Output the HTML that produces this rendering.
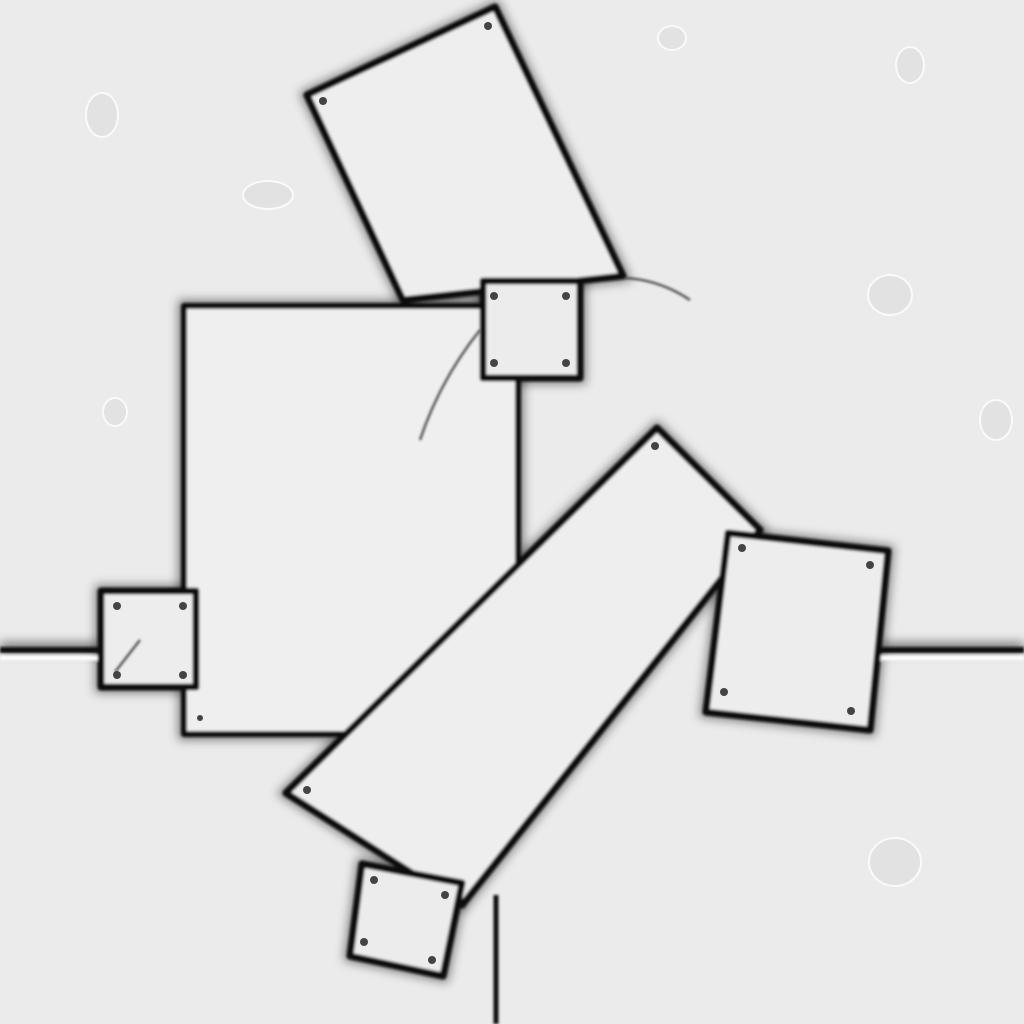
<!DOCTYPE html>
<html>
<head>
<meta charset="utf-8">
<style>
  html,body{margin:0;padding:0;background:#ebebeb;}
  svg{display:block;}
</style>
</head>
<body>
<svg width="1024" height="1024" viewBox="0 0 1024 1024">
  <defs>
    <filter id="soft" x="-5%" y="-5%" width="110%" height="110%">
      <feGaussianBlur stdDeviation="1.4"/>
    </filter>
    <filter id="shadow" x="-10%" y="-10%" width="120%" height="120%">
      <feGaussianBlur stdDeviation="5"/>
    </filter>
    <g id="shapes">
      <polygon points="307,95 495,7 623,276 403,300"/>
      <rect x="184" y="306" width="334" height="428"/>
      <polygon points="657,428 760,530 462,905 286,793"/>
      <rect x="483" y="281" width="97" height="97"/>
      <rect x="101" y="591" width="95" height="96"/>
      <polygon points="728,533 888,551 870,730 706,712"/>
      <polygon points="362,864 462,883 443,976 350,956"/>
    </g>
  </defs>
  <rect width="1024" height="1024" fill="#ebebeb"/>

  <!-- faint droplets -->
  <g fill="#e2e2e2" stroke="#fafafa" stroke-width="2">
    <ellipse cx="102" cy="115" rx="16" ry="22"/>
    <ellipse cx="268" cy="195" rx="25" ry="14"/>
    <ellipse cx="890" cy="295" rx="22" ry="20"/>
    <ellipse cx="996" cy="420" rx="16" ry="20"/>
    <ellipse cx="895" cy="862" rx="26" ry="24"/>
    <ellipse cx="910" cy="65" rx="14" ry="18"/>
    <ellipse cx="672" cy="38" rx="14" ry="12"/>
    <ellipse cx="115" cy="412" rx="12" ry="14"/>
  </g>

  <!-- shadow glow -->
  <g filter="url(#shadow)" fill="none" stroke="#000" stroke-opacity="0.45" stroke-width="12">
    <use href="#shapes"/>
    <line x1="0" y1="648" x2="100" y2="648"/>
    <line x1="880" y1="648" x2="1024" y2="648"/>
  </g>

  <g filter="url(#soft)" stroke="#111" stroke-linejoin="round">
    <line x1="0" y1="650" x2="100" y2="650" stroke-width="6"/>
    <line x1="0" y1="658" x2="100" y2="658" stroke="#fff" stroke-width="5"/>
    <line x1="880" y1="650" x2="1024" y2="650" stroke-width="6"/>
    <line x1="880" y1="658" x2="1024" y2="658" stroke="#fff" stroke-width="5"/>
    <line x1="518" y1="378" x2="518" y2="560" stroke-width="5"/>
    <line x1="496" y1="895" x2="496" y2="1024" stroke-width="5"/>

    <polygon points="307,95 495,7 623,276 403,300" fill="#eeeeee" stroke-width="7"/>
    <rect x="184" y="306" width="334" height="428" fill="#efefef" stroke-width="6"/>
    <polygon points="657,428 760,530 462,905 286,793" fill="#eeeeee" stroke-width="7"/>
    <rect x="483" y="281" width="97" height="97" fill="#ececec" stroke-width="7"/>
    <rect x="101" y="591" width="95" height="96" fill="#ededed" stroke-width="7"/>
    <polygon points="728,533 888,551 870,730 706,712" fill="#ededed" stroke-width="7"/>
    <polygon points="362,864 462,883 443,976 350,956" fill="#ececec" stroke-width="7"/>
  </g>

  <g fill="#444">
    <circle cx="323" cy="101" r="4"/><circle cx="488" cy="26" r="4"/>
    <circle cx="494" cy="296" r="4"/><circle cx="566" cy="296" r="4"/>
    <circle cx="494" cy="363" r="4"/><circle cx="566" cy="363" r="4"/>
    <circle cx="117" cy="606" r="4"/><circle cx="183" cy="606" r="4"/>
    <circle cx="117" cy="675" r="4"/><circle cx="183" cy="675" r="4"/>
    <circle cx="655" cy="446" r="4"/><circle cx="307" cy="790" r="4"/>
    <circle cx="742" cy="548" r="4"/><circle cx="870" cy="565" r="4"/>
    <circle cx="724" cy="692" r="4"/><circle cx="851" cy="711" r="4"/>
    <circle cx="374" cy="880" r="4"/><circle cx="445" cy="895" r="4"/>
    <circle cx="364" cy="942" r="4"/><circle cx="432" cy="960" r="4"/>
    <circle cx="200" cy="718" r="3"/>
  </g>

  <g stroke="#333" stroke-width="2" fill="none" filter="url(#soft)">
    <path d="M625,278 Q660,280 690,300"/>
    <path d="M480,330 Q440,380 420,440"/>
    <path d="M140,640 L115,672"/>
  </g>
</svg>
</body>
</html>
